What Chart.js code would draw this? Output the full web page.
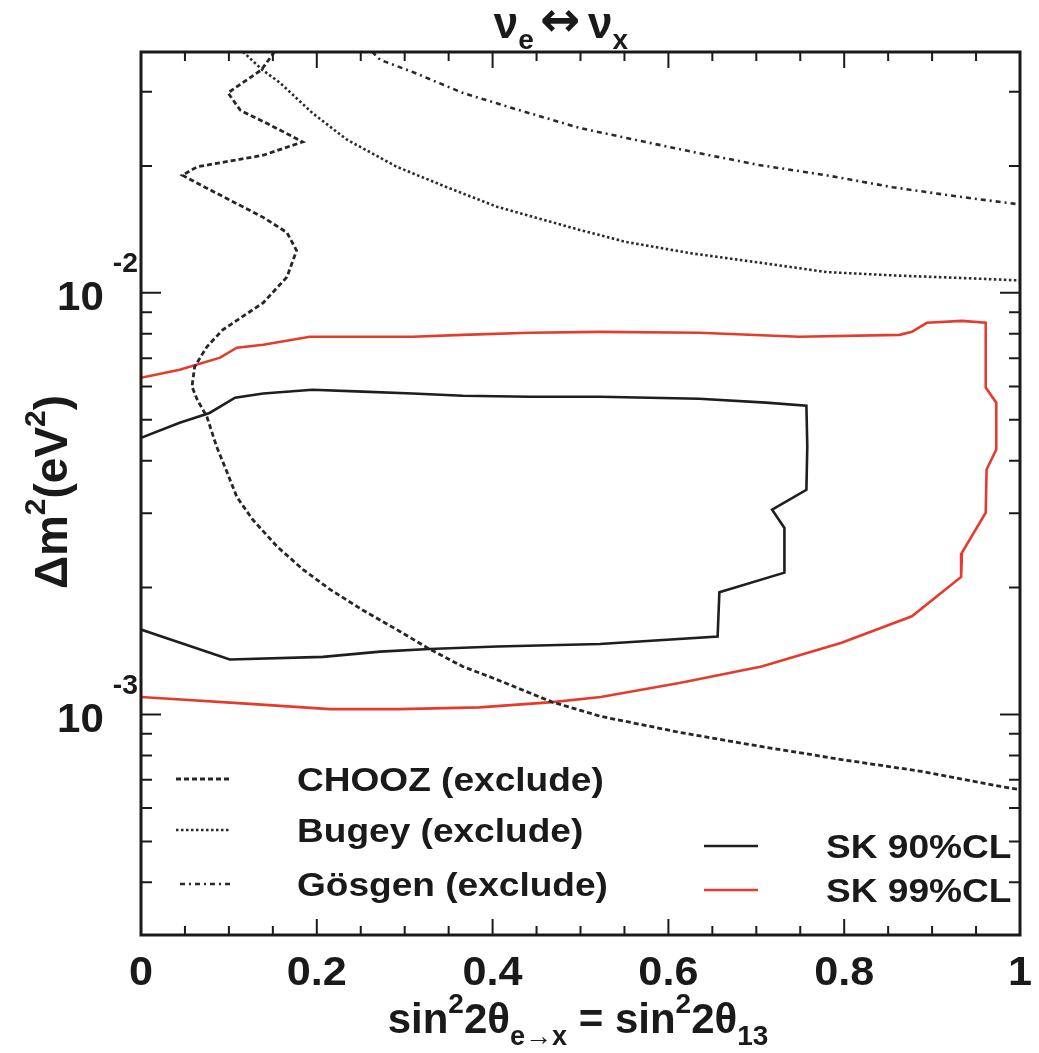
<!DOCTYPE html>
<html>
<head>
<meta charset="utf-8">
<script src="https://cdn.jsdelivr.net/npm/chart.js@4.4.1/dist/chart.umd.min.js"></script>
<style>
  html, body { margin: 0; padding: 0; background: #fff; }
  #wrap { width: 1039px; height: 1053px; }
</style>
</head>
<body>
<div id="wrap"><canvas id="contourChart"></canvas></div>
<script>
// x = sin^2 2theta, y = delta m^2 (eV^2)
const choozX = [0.152, 0.137, 0.099, 0.113, 0.147, 0.184, 0.139, 0.064, 0.047, 0.082, 0.139, 0.166, 0.177, 0.166, 0.139, 0.093, 0.075, 0.061, 0.058, 0.064, 0.075, 0.086, 0.098, 0.109, 0.127, 0.155, 0.184, 0.215, 0.252, 0.291, 0.328, 0.366, 0.405, 0.468, 0.523, 0.614, 0.705, 0.797, 0.888, 0.978, 1.0];
const choozY = [0.0373, 0.0338, 0.0298, 0.0271, 0.0250, 0.0228, 0.0212, 0.0199, 0.0190, 0.0174, 0.0151, 0.0139, 0.0126, 0.0109, 0.00947, 0.00817, 0.00745, 0.00668, 0.00599, 0.00558, 0.00508, 0.00432, 0.00375, 0.00328, 0.00290, 0.00250, 0.00221, 0.00198, 0.00177, 0.00159, 0.00143, 0.00130, 0.00121, 0.00107, 0.00099, 0.000906, 0.000840, 0.000782, 0.000733, 0.000675, 0.000664];

const bugeyX = [0.116, 0.138, 0.158, 0.195, 0.234, 0.291, 0.348, 0.405, 0.499, 0.552, 0.627, 0.703, 0.780, 0.855, 0.931, 1.0];
const bugeyY = [0.0373, 0.0338, 0.0315, 0.0267, 0.0231, 0.0199, 0.0178, 0.0160, 0.0141, 0.0132, 0.0124, 0.0118, 0.0112, 0.0110, 0.01085, 0.0107];

const gosgenX = [0.263, 0.272, 0.309, 0.366, 0.423, 0.499, 0.552, 0.627, 0.703, 0.780, 0.855, 0.931, 1.0];
const gosgenY = [0.0373, 0.0357, 0.0334, 0.0298, 0.0274, 0.0246, 0.0233, 0.0216, 0.0201, 0.0190, 0.0178, 0.0169, 0.0162];

const sk90X = [0, 0.044, 0.078, 0.107, 0.139, 0.195, 0.252, 0.309, 0.366, 0.442, 0.522, 0.635, 0.711, 0.757, 0.758, 0.757, 0.718, 0.732, 0.732, 0.658, 0.656, 0.522, 0.405, 0.328, 0.272, 0.207, 0.101, 0];
const sk90Y = [0.00453, 0.00492, 0.00519, 0.00564, 0.00577, 0.00589, 0.00583, 0.00577, 0.00570, 0.00567, 0.00567, 0.00561, 0.00549, 0.00540, 0.00432, 0.00341, 0.00306, 0.00277, 0.00217, 0.00195, 0.00153, 0.00147, 0.00145, 0.00143, 0.00141, 0.00137, 0.00135, 0.00159];

const sk99X = [0, 0.044, 0.090, 0.109, 0.139, 0.192, 0.252, 0.309, 0.366, 0.442, 0.522, 0.635, 0.749, 0.863, 0.877, 0.894, 0.934, 0.961, 0.961, 0.973, 0.973, 0.962, 0.961, 0.934, 0.933, 0.877, 0.797, 0.706, 0.614, 0.523, 0.468, 0.385, 0.294, 0.215, 0.124, 0];
const sk99Y = [0.00629, 0.00657, 0.00702, 0.00741, 0.00753, 0.00787, 0.00787, 0.00787, 0.00795, 0.00804, 0.00808, 0.00804, 0.00787, 0.00795, 0.00808, 0.00849, 0.00858, 0.00849, 0.00596, 0.00549, 0.00425, 0.00381, 0.00301, 0.00242, 0.00212, 0.00171, 0.00148, 0.00130, 0.00119, 0.00110, 0.00107, 0.00104, 0.00103, 0.00103, 0.00106, 0.00110];

// axis ticks
const xMajorTicks = [0, 0.2, 0.4, 0.6, 0.8, 1];
const xTickLabels = ['0', '0.2', '0.4', '0.6', '0.8', '1'];
const xMinorTicks = [0.05, 0.1, 0.15, 0.25, 0.3, 0.35, 0.45, 0.5, 0.55, 0.65, 0.7, 0.75, 0.85, 0.9, 0.95];
const yMajorTicks = [0.001, 0.01];
const yTickExp = ['-3', '-2'];
const yMinorTicks = [0.0004, 0.0005, 0.0006, 0.0007, 0.0008, 0.0009, 0.002, 0.003, 0.004, 0.005, 0.006, 0.007, 0.008, 0.009, 0.02, 0.03];

const FONT = '"Liberation Sans", Arial, Helvetica, sans-serif';
const INK = '#1a1a1a';

function pts(xs, ys) {
    return xs.map((x, i) => ({ x: x, y: ys[i] }));
}

// draw text made of pieces (superscripts / subscripts), slightly widened like the scan
function drawRich(ctx, parts, x, y, align, stretch) {
    const fontOf = p => 'bold ' + p.size + 'px ' + (p.family || FONT);
    let w = 0;
    parts.forEach(p => {
        ctx.font = fontOf(p);
        w += ctx.measureText(p.text).width * stretch + (p.gap || 0);
    });
    let cx = align === 'center' ? x - w / 2 : (align === 'right' ? x - w : x);
    parts.forEach(p => {
        ctx.font = fontOf(p);
        ctx.save();
        ctx.translate(cx, y + (p.dy || 0));
        ctx.scale(stretch, 1);
        ctx.textAlign = 'left';
        ctx.textBaseline = 'alphabetic';
        ctx.fillText(p.text, 0, 0);
        ctx.restore();
        cx += ctx.measureText(p.text).width * stretch + (p.gap || 0);
    });
}

const frameAndText = {
    id: 'frameAndText',
    afterDraw(chart) {
        const ctx = chart.ctx;
        const a = chart.chartArea;
        const xs = chart.scales.x;
        const ys = chart.scales.y;
        ctx.save();
        ctx.fillStyle = INK;
        ctx.strokeStyle = INK;

        // ticks, pointing inward on all four sides
        ctx.lineWidth = 2;
        ctx.beginPath();
        xMajorTicks.forEach(v => {
            const px = xs.getPixelForValue(v);
            ctx.moveTo(px, a.bottom); ctx.lineTo(px, a.bottom - 16);
            ctx.moveTo(px, a.top); ctx.lineTo(px, a.top + 16);
        });
        xMinorTicks.forEach(v => {
            const px = xs.getPixelForValue(v);
            ctx.moveTo(px, a.bottom); ctx.lineTo(px, a.bottom - 9);
            ctx.moveTo(px, a.top); ctx.lineTo(px, a.top + 9);
        });
        yMajorTicks.forEach(v => {
            const py = ys.getPixelForValue(v);
            ctx.moveTo(a.left, py); ctx.lineTo(a.left + 20, py);
            ctx.moveTo(a.right, py); ctx.lineTo(a.right - 20, py);
        });
        yMinorTicks.forEach(v => {
            const py = ys.getPixelForValue(v);
            ctx.moveTo(a.left, py); ctx.lineTo(a.left + 11, py);
            ctx.moveTo(a.right, py); ctx.lineTo(a.right - 11, py);
        });
        ctx.stroke();

        // frame
        ctx.lineWidth = 3;
        ctx.strokeRect(a.left, a.top, a.right - a.left, a.bottom - a.top);

        // tick labels
        xMajorTicks.forEach((v, i) => {
            drawRich(ctx, [{ text: xTickLabels[i], size: 40 }], xs.getPixelForValue(v), a.bottom + 50, 'center', 1.08);
        });
        yMajorTicks.forEach((v, i) => {
            const py = ys.getPixelForValue(v);
            drawRich(ctx, [
                { text: '10', size: 40, gap: 9 },
                { text: yTickExp[i], size: 27, dy: -38 }
            ], a.left - 3, py + 17, 'right', 1.05);
        });

        // axis titles
        drawRich(ctx, [
            { text: 'sin', size: 42 },
            { text: '2', size: 28, dy: -20 },
            { text: '2θ', size: 42 },
            { text: 'e→x', size: 27, dy: 12 },
            { text: ' = sin', size: 42 },
            { text: '2', size: 28, dy: -20 },
            { text: '2θ', size: 42 },
            { text: '13', size: 28, dy: 12 }
        ], 578, 1033, 'center', 1.0);

        ctx.save();
        ctx.translate(67, 492);
        ctx.rotate(-Math.PI / 2);
        drawRich(ctx, [
            { text: 'Δm', size: 46 },
            { text: '2', size: 30, dy: -22 },
            { text: '(eV', size: 46 },
            { text: '2', size: 30, dy: -22 },
            { text: ')', size: 46 }
        ], 0, 0, 'center', 1.0);
        ctx.restore();

        drawRich(ctx, [
            { text: 'ν', size: 44 },
            { text: 'e', size: 28, dy: 11, gap: 6 },
            { text: '↔', size: 48, family: '"DejaVu Sans", sans-serif', dy: -2, gap: 8 },
            { text: 'ν', size: 44 },
            { text: 'x', size: 28, dy: 11 }
        ], 561, 38, 'center', 1.0);

        // legend
        const ds = chart.data.datasets;
        const rows = [
            { d: ds[0], x1: 176, x2: 230, y: 779, tx: 297 },
            { d: ds[1], x1: 176, x2: 230, y: 830, tx: 297 },
            { d: ds[2], x1: 180, x2: 230, y: 884, tx: 297 },
            { d: ds[3], x1: 704, x2: 758, y: 846, tx: 826 },
            { d: ds[4], x1: 704, x2: 758, y: 890, tx: 826 }
        ];
        rows.forEach(r => {
            ctx.save();
            ctx.strokeStyle = r.d.borderColor;
            ctx.lineWidth = r.d.borderWidth;
            ctx.setLineDash(r.d.borderDash || []);
            ctx.beginPath();
            ctx.moveTo(r.x1, r.y); ctx.lineTo(r.x2, r.y);
            ctx.stroke();
            ctx.restore();
            ctx.fillStyle = INK;
            drawRich(ctx, [{ text: r.d.label, size: 34 }], r.tx, r.y + 12, 'left', 1.09);
        });
        ctx.restore();
    }
};

const ctx = document.getElementById('contourChart').getContext('2d');
const contourChart = new Chart(ctx, {
    type: 'scatter',
    data: {
        datasets: [{
            label: 'CHOOZ (exclude)',
            data: pts(choozX, choozY),
            borderColor: '#262626',
            borderWidth: 2.8,
            borderDash: [5, 3]
        }, {
            label: 'Bugey (exclude)',
            data: pts(bugeyX, bugeyY),
            borderColor: '#2a2a2a',
            borderWidth: 2.6,
            borderDash: [2.5, 2.5]
        }, {
            label: 'Gösgen (exclude)',
            data: pts(gosgenX, gosgenY),
            borderColor: '#2a2a2a',
            borderWidth: 2.6,
            borderDash: [5, 4, 2, 4]
        }, {
            label: 'SK 90%CL',
            data: pts(sk90X, sk90Y),
            borderColor: '#1e1e1e',
            borderWidth: 2.6
        }, {
            label: 'SK 99%CL',
            data: pts(sk99X, sk99Y),
            borderColor: '#e53b2c',
            borderWidth: 2.6
        }].map(d => Object.assign(d, { showLine: true, pointRadius: 0, fill: false, tension: 0 }))
    },
    options: {
        responsive: true,
        maintainAspectRatio: false,
        animation: false,
        events: [],
        layout: { padding: { left: 141, right: 19, top: 52, bottom: 118 } },
        plugins: { legend: { display: false }, tooltip: { enabled: false } },
        scales: {
            x: { type: 'linear', min: 0, max: 1, display: false },
            y: { type: 'logarithmic', min: 0.000301, max: 0.03725, display: false }
        }
    },
    plugins: [frameAndText]
});
</script>
</body>
</html>
